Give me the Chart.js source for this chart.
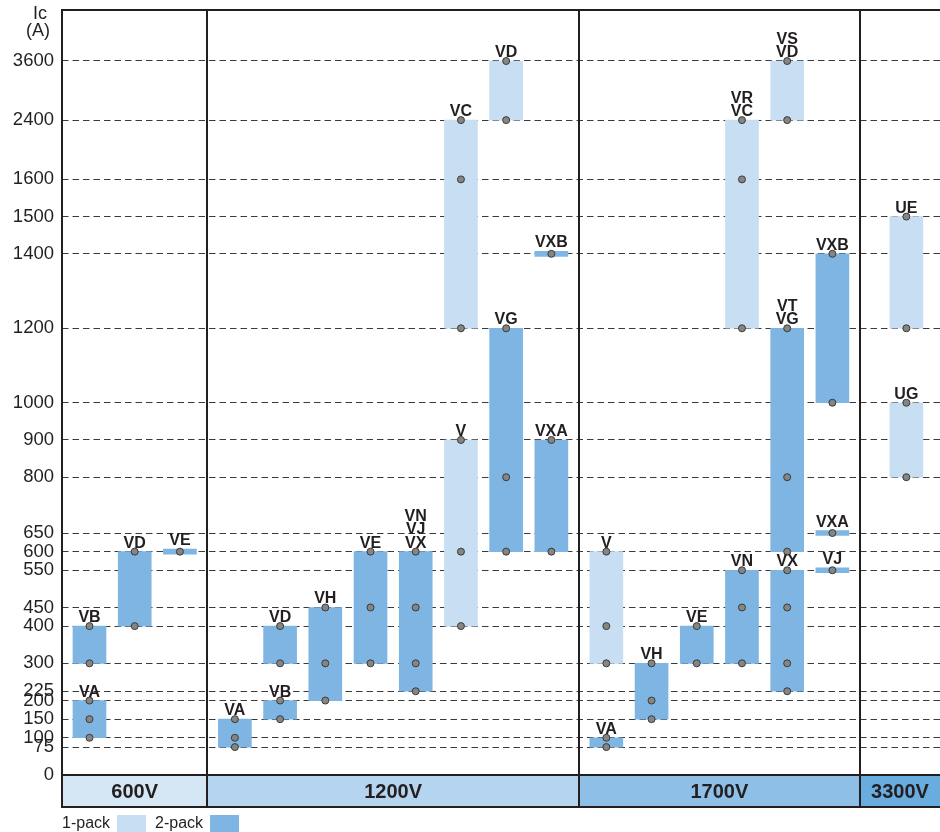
<!DOCTYPE html>
<html>
<head>
<meta charset="utf-8">
<title>Ic ranges by voltage class</title>
<script src="https://cdn.jsdelivr.net/npm/chart.js@4.4.1/dist/chart.umd.min.js"></script>
<style>
  body { margin: 0; background: #fff; }
  #wrap { width: 940px; height: 832px; }
</style>
</head>
<body>
<div id="wrap"><canvas id="icChart" width="940" height="832"></canvas></div>
<script>
// --- Data ---
const voltages = ['600V', '1200V', '1700V', '3300V'];
const packLabels = ['1-pack', '2-pack'];
const yTicks = [0, 75, 100, 150, 200, 225, 300, 400, 450, 550, 600, 650, 800, 900, 1000, 1200, 1400, 1500, 1600, 2400, 3600];
const yTickLabels = ['0', '75', '100', '150', '200', '225', '300', '400', '450', '550', '600', '650', '800', '900', '1000', '1200', '1400', '1500', '1600', '2400', '3600'];

// one entry per column: [series, pack, Ic low, Ic high, ratings marked with a dot]
const cols600 = [
    [['VA', 2, 100, 200, [100, 150, 200]], ['VB', 2, 300, 400, [300, 400]]],
    [['VD', 2, 400, 600, [400, 600]]],
    [['VE', 2, 600, 600, [600]]]
];
const cols1200 = [
    [['VA', 2, 75, 150, [75, 100, 150]]],
    [['VB', 2, 150, 200, [150, 200]], ['VD', 2, 300, 400, [300, 400]]],
    [['VH', 2, 200, 450, [200, 300, 450]]],
    [['VE', 2, 300, 600, [300, 450, 600]]],
    [['VN/VJ/VX', 2, 225, 600, [225, 300, 450, 600]]],
    [['V', 1, 400, 900, [400, 600, 900]], ['VC', 1, 1200, 2400, [1200, 1600, 2400]]],
    [['VG', 2, 600, 1200, [600, 800, 1200]], ['VD', 1, 2400, 3600, [2400, 3600]]],
    [['VXA', 2, 600, 900, [600, 900]], ['VXB', 2, 1400, 1400, [1400]]]
];
const cols1700 = [
    [['VA', 2, 75, 100, [75, 100]], ['V', 1, 300, 600, [300, 400, 600]]],
    [['VH', 2, 150, 300, [150, 200, 300]]],
    [['VE', 2, 300, 400, [300, 400]]],
    [['VN', 2, 300, 550, [300, 450, 550]], ['VR/VC', 1, 1200, 2400, [1200, 1600, 2400]]],
    [['VX', 2, 225, 550, [225, 300, 450, 550]], ['VT/VG', 2, 600, 1200, [600, 800, 1200]], ['VS/VD', 1, 2400, 3600, [2400, 3600]]],
    [['VJ', 2, 550, 550, [550]], ['VXA', 2, 650, 650, [650]], ['VXB', 2, 1000, 1400, [1000, 1400]]]
];
const cols3300 = [
    [['UG', 1, 800, 1000, [800, 1000]], ['UE', 1, 1200, 1500, [1200, 1500]]]
];

// --- Layout / style ---
const groupCols = [cols600, cols1200, cols1700, cols3300];
const groupSlots = [3, 8, 6, 2];      // column slots per voltage band
const colShift = [0, 0, 0, 0.42];
const GROUP_PAD = 0.108;
const X_MAX = 19.42;
const Y_MAX = 2055;
const THIN = 6.7;                      // half height of single-rating bars (axis units)
const BAND_H = 32;

const INK = '#231f20';
const packColors = ['#c8def2', '#7eb5e2'];
const bandColors = ['#d5e6f5', '#b5d4ef', '#8dbfe7', '#69ade0'];

// axis is linear up to 1600 A, compressed above
function toAxis(v) {
    if (v <= 1600) return v;
    if (v <= 2400) return 1600 + (v - 1600) * 0.199;
    return 1759 + (v - 2400) * 0.1325;
}

const groupStart = [];
let acc = 0;
groupSlots.forEach(n => { groupStart.push(acc); acc += n + 2 * GROUP_PAD; });

const bars = [];
groupCols.forEach((cols, g) => {
    cols.forEach((col, c) => {
        col.forEach(r => {
            bars.push({
                x: groupStart[g] + GROUP_PAD + 0.5 + c + colShift[g],
                names: r[0].split('/'), pack: r[1], lo: r[2], hi: r[3], dots: r[4]
            });
        });
    });
});

function span(b) {
    if (b.lo === b.hi) return [toAxis(b.lo) - THIN, toAxis(b.hi) + THIN];
    return [toAxis(b.lo), toAxis(b.hi)];
}

const dotPoints = [];
bars.forEach(b => b.dots.forEach(d => dotPoints.push({ x: b.x, y: toAxis(d) })));

// --- Frame, voltage band, legend and bar labels ---
const framePlugin = {
    id: 'frame',
    afterDatasetsDraw(chart) {
        const ctx = chart.ctx;
        const xs = chart.scales.x, ys = chart.scales.y;
        ctx.save();
        ctx.fillStyle = INK;
        ctx.font = 'bold 16px "Liberation Sans", Arial, sans-serif';
        ctx.textAlign = 'center';
        ctx.textBaseline = 'alphabetic';
        bars.forEach(b => {
            const px = xs.getPixelForValue(b.x);
            const top = ys.getPixelForValue(span(b)[1]);
            const n = b.names.length;
            b.names.forEach((name, i) => {
                ctx.fillText(name, px, top - 4 - (n - 1 - i) * 13.5);
            });
        });
        ctx.restore();
    },
    afterDraw(chart) {
        const ctx = chart.ctx;
        const ca = chart.chartArea;
        const xs = chart.scales.x;
        const bandBottom = ca.bottom + BAND_H;
        ctx.save();

        // voltage band
        groupStart.forEach((s, g) => {
            const x0 = xs.getPixelForValue(s);
            const x1 = Math.min(xs.getPixelForValue(s + groupSlots[g] + 2 * GROUP_PAD), ca.right);
            ctx.fillStyle = bandColors[g];
            ctx.fillRect(x0, ca.bottom, x1 - x0, BAND_H);
            ctx.fillStyle = INK;
            ctx.font = 'bold 20px "Liberation Sans", Arial, sans-serif';
            ctx.textAlign = 'center';
            ctx.textBaseline = 'middle';
            ctx.fillText(voltages[g], (x0 + x1) / 2, ca.bottom + BAND_H / 2 + 1);
        });

        // frame lines
        ctx.strokeStyle = INK;
        ctx.lineWidth = 2;
        ctx.beginPath();
        ctx.moveTo(ca.left, ca.top); ctx.lineTo(ca.right, ca.top);
        ctx.moveTo(ca.left, ca.bottom); ctx.lineTo(ca.right, ca.bottom);
        ctx.moveTo(ca.left, bandBottom); ctx.lineTo(ca.right, bandBottom);
        ctx.moveTo(ca.left, ca.top - 1); ctx.lineTo(ca.left, bandBottom + 1);
        groupStart.slice(1).forEach(s => {
            const px = Math.round(xs.getPixelForValue(s));
            ctx.moveTo(px, ca.top); ctx.lineTo(px, bandBottom);
        });
        ctx.stroke();

        // axis title
        ctx.fillStyle = INK;
        ctx.font = '18px "Liberation Sans", Arial, sans-serif';
        ctx.textAlign = 'center';
        ctx.textBaseline = 'alphabetic';
        ctx.fillText('Ic', 40, 19);
        ctx.fillText('(A)', 38, 36);

        // legend: text followed by swatch
        ctx.font = '16px "Liberation Sans", Arial, sans-serif';
        ctx.textAlign = 'left';
        ctx.textBaseline = 'middle';
        let lx = ca.left;
        packLabels.forEach((lbl, i) => {
            ctx.fillStyle = INK;
            ctx.fillText(lbl, lx, 824);
            lx += ctx.measureText(lbl).width + 7;
            ctx.fillStyle = packColors[i];
            ctx.fillRect(lx, 815, 29, 17);
            lx += 29 + 9;
        });
        ctx.restore();
    }
};

new Chart(document.getElementById('icChart'), {
    type: 'bar',
    data: {
        datasets: [
            {
                type: 'scatter',
                label: 'rating',
                data: dotPoints,
                order: 0,
                clip: false,
                pointRadius: 3.5,
                pointBackgroundColor: '#858585',
                pointBorderColor: '#3a3a3a',
                pointBorderWidth: 1
            },
            {
                label: packLabels[0],
                data: bars.filter(b => b.pack === 1).map(b => ({ x: b.x, y: span(b) })),
                backgroundColor: packColors[0],
                barThickness: 33,
                grouped: false,
                order: 1
            },
            {
                label: packLabels[1],
                data: bars.filter(b => b.pack === 2).map(b => ({ x: b.x, y: span(b) })),
                backgroundColor: packColors[1],
                barThickness: 33,
                grouped: false,
                order: 1
            }
        ]
    },
    options: {
        responsive: false,
        animation: false,
        events: [],
        layout: {
            autoPadding: false,
            padding: { top: 10, bottom: 57, left: 0, right: 0 }
        },
        plugins: {
            legend: { display: false },
            tooltip: { enabled: false }
        },
        scales: {
            x: {
                type: 'linear',
                display: false,
                offset: false,
                min: 0,
                max: X_MAX
            },
            y: {
                type: 'linear',
                min: 0,
                max: Y_MAX,
                afterBuildTicks: scale => {
                    scale.ticks = yTicks.map(v => ({ value: toAxis(v) }));
                },
                afterFit: scale => {
                    scale.width = 62;
                    scale.paddingTop = 0;
                    scale.paddingBottom = 0;
                },
                border: { display: false, dash: [6.5, 4] },
                grid: {
                    drawTicks: false,
                    lineWidth: 1,
                    color: c => (c.tick && c.tick.value === 0 ? 'rgba(0,0,0,0)' : '#3a3a3a')
                },
                ticks: {
                    autoSkip: false,
                    padding: 8,
                    color: INK,
                    font: { family: '"Liberation Sans", Arial, sans-serif', size: 18.5, lineHeight: 1 },
                    callback: (val, i) => yTickLabels[i]
                }
            }
        }
    },
    plugins: [framePlugin]
});
</script>
</body>
</html>
